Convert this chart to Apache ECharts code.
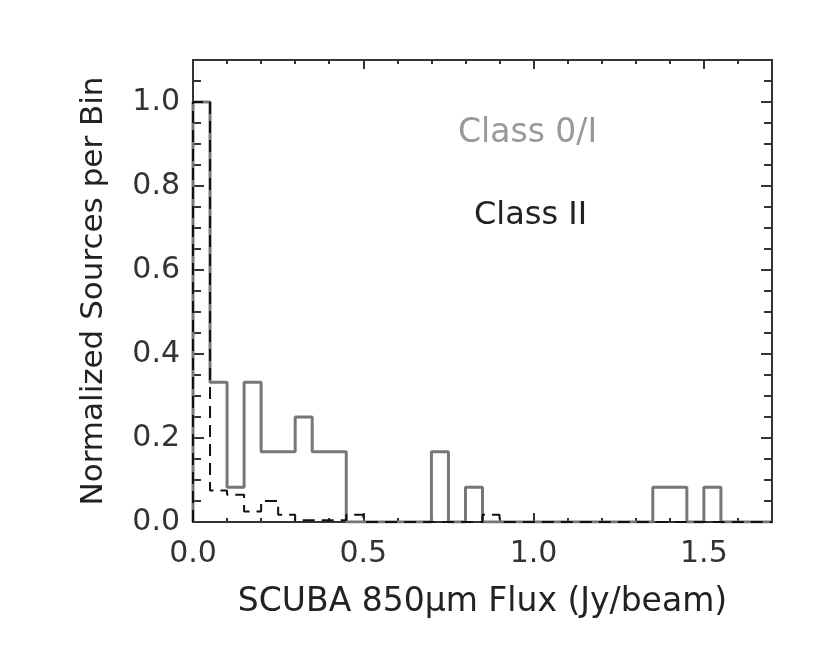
<!DOCTYPE html>
<html>
<head>
<meta charset="utf-8">
<script src="https://cdn.jsdelivr.net/npm/echarts@6/dist/echarts.min.js"></script>
<style>
  html, body { margin: 0; padding: 0; background: #fff; }
  #chart { width: 830px; height: 646px; }
</style>
</head>
<body>
<div id="chart"></div>
<script>
// left edges of the 0.05 Jy/beam bins
var binEdges = [0.00, 0.05, 0.10, 0.15, 0.20, 0.25, 0.30, 0.35, 0.40, 0.45,
                0.50, 0.55, 0.60, 0.65, 0.70, 0.75, 0.80, 0.85, 0.90, 0.95,
                1.00, 1.05, 1.10, 1.15, 1.20, 1.25, 1.30, 1.35, 1.40, 1.45,
                1.50, 1.55, 1.60, 1.65, 1.70]
// Class 0/I (solid grey)
var class01 = [1.0, 0.333, 0.083, 0.333, 0.167, 0.167, 0.25, 0.167, 0.167, 0,
               0, 0, 0, 0, 0.167, 0, 0.083, 0, 0, 0,
               0, 0, 0, 0, 0, 0, 0, 0.083, 0.083, 0,
               0.083, 0, 0, 0]
// Class II (dashed black)
var class2 = [1.0, 0.075, 0.065, 0.025, 0.05, 0.017, 0.004, 0.004, 0.004, 0.017,
              0, 0, 0, 0, 0, 0, 0, 0.017, 0, 0,
              0, 0, 0, 0, 0, 0, 0, 0, 0, 0,
              0, 0, 0, 0]
var xTickLabels = ['0.0', '0.5', '1.0', '1.5']
var yTickLabels = ['0.0', '0.2', '0.4', '0.6', '0.8', '1.0']

function stepData(vals) {
  var pts = [[binEdges[0], 0]]
  vals.forEach(function (v, i) { pts.push([binEdges[i], v]) })
  pts.push([binEdges[vals.length], vals[vals.length - 1]])
  return pts
}

var font = 'DejaVu Sans'
var axisCol = '#333'

function xAx(pos, interval, tickLen, labels) {
  return {
    type: 'value', position: pos, min: 0, max: 1.7, interval: interval,
    axisLine: { show: true, onZero: false, lineStyle: { color: axisCol, width: 2 } },
    axisTick: { show: true, inside: true, length: tickLen, lineStyle: { color: axisCol, width: 2 } },
    splitLine: { show: false },
    axisLabel: {
      show: labels, showMaxLabel: false, margin: 17,
      color: '#333', fontFamily: font, fontSize: 30,
      formatter: function (v) {
        var k = Math.round(v / 0.5)
        return Math.abs(v - k * 0.5) < 1e-6 && xTickLabels[k] ? xTickLabels[k] : ''
      }
    }
  }
}
function yAx(pos, interval, tickLen, labels) {
  return {
    type: 'value', position: pos, min: 0, max: 1.1, interval: interval,
    axisLine: { show: true, onZero: false, lineStyle: { color: axisCol, width: 2 } },
    axisTick: { show: true, inside: true, length: tickLen, lineStyle: { color: axisCol, width: 2 } },
    splitLine: { show: false },
    axisLabel: {
      show: labels, showMaxLabel: false, margin: 13,
      color: '#333', fontFamily: font, fontSize: 30,
      formatter: function (v) {
        var k = Math.round(v / 0.2)
        return Math.abs(v - k * 0.2) < 1e-6 && yTickLabels[k] ? yTickLabels[k] : ''
      }
    }
  }
}

var xMain = xAx('bottom', 0.5, 9, true)
xMain.name = 'SCUBA 850\u03bcm Flux (Jy/beam)'
xMain.nameLocation = 'middle'
xMain.nameGap = 64
xMain.nameTextStyle = { color: '#222', fontFamily: font, fontSize: 33 }

var yMain = yAx('left', 0.2, 11, true)
yMain.name = 'Normalized Sources per Bin'
yMain.nameLocation = 'middle'
yMain.nameGap = 84
yMain.nameTextStyle = { color: '#222', fontFamily: font, fontSize: 31 }

var option = {
  backgroundColor: '#fff',
  animation: false,
  grid: { left: 193, top: 60, right: 58, bottom: 124 },
  xAxis: [xMain, xAx('bottom', 0.1, 4, false), xAx('top', 0.5, 9, false), xAx('top', 0.1, 4, false)],
  yAxis: [yMain, yAx('left', 0.05, 8, false), yAx('right', 0.2, 11, false), yAx('right', 0.05, 8, false)],
  graphic: [
    { type: 'text', left: 458, top: 117,
      style: { text: 'Class 0/I', fill: '#999', font: '33px "DejaVu Sans"' } },
    { type: 'text', left: 474, top: 200,
      style: { text: 'Class II', fill: '#222', font: '32px "DejaVu Sans"' } }
  ],
  series: [
    {
      name: 'Class 0/I', type: 'line', step: 'end', xAxisIndex: 0, yAxisIndex: 0,
      data: stepData(class01), symbol: 'none',
      lineStyle: { color: '#777', width: 3 }, z: 3
    },
    {
      name: 'Class II', type: 'line', step: 'end', xAxisIndex: 0, yAxisIndex: 0,
      data: stepData(class2), symbol: 'none',
      lineStyle: { color: '#111', width: 2, type: [12, 7] }, z: 4
    }
  ]
}

var myChart = echarts.init(document.getElementById('chart'))
myChart.setOption(option)
</script>
</body>
</html>
